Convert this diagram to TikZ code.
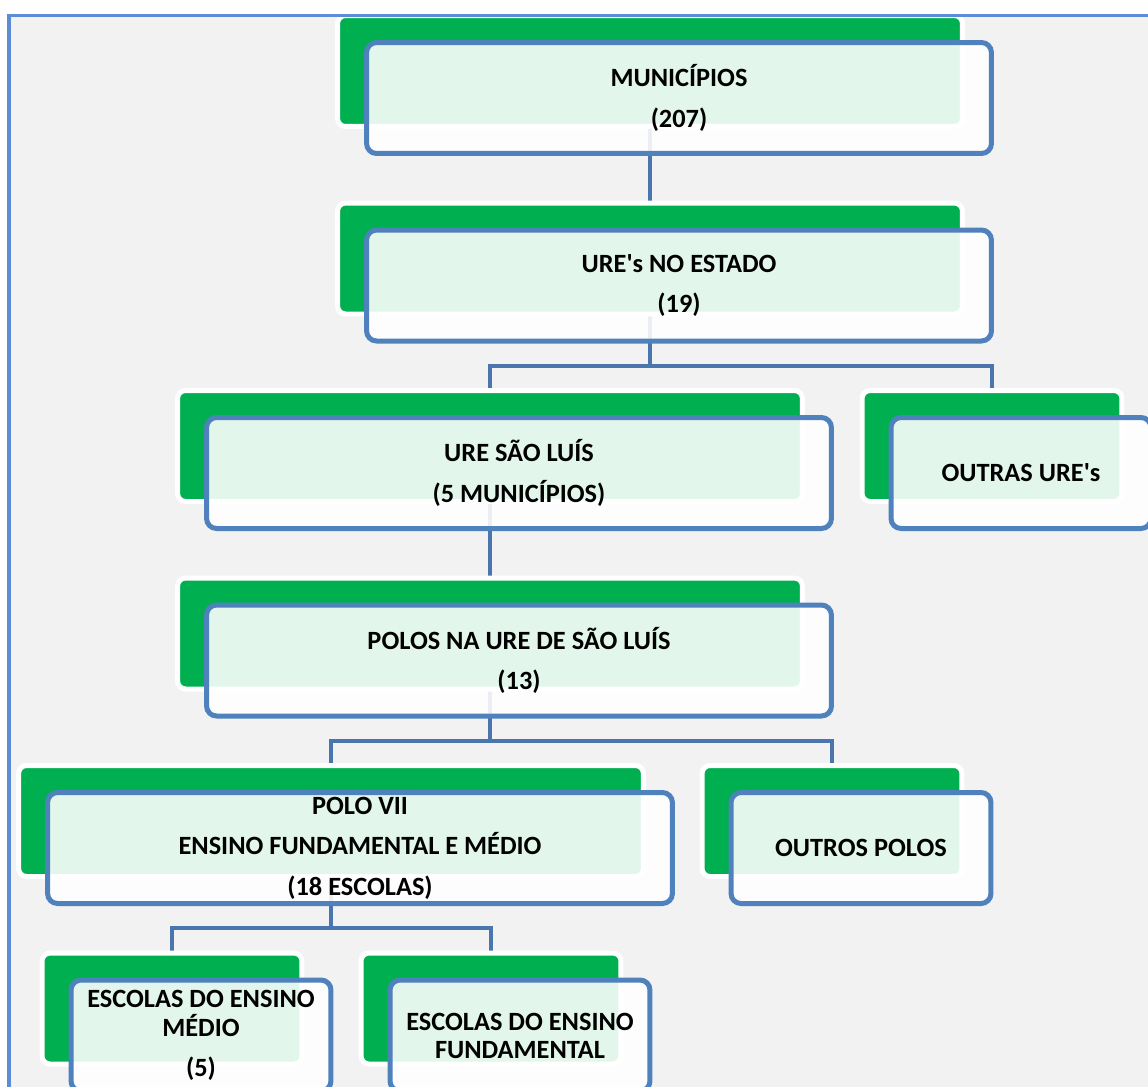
\documentclass[tikz,border=0pt]{standalone}
\usepackage{fontspec}
\setmainfont{Carlito}
\usepackage{tikz}
\usetikzlibrary{calc, backgrounds}
\definecolor{boxgreen}{HTML}{00B050}
\definecolor{boxblue}{HTML}{4F81BD}
\definecolor{linkblue}{HTML}{4A75AD}
\definecolor{frameblue}{HTML}{5B8DD6}
\definecolor{paper}{HTML}{F2F2F2}

\begin{document}
\begin{tikzpicture}[
    x=0.02cm, y=-0.02cm,
    every node/.style={font=\bfseries\fontsize{15pt}{16pt}\selectfont},
    shadowbox/.style={rectangle, rounded corners=0.16cm, fill=boxgreen, draw=white, line width=0.1cm, minimum height=2.22cm, inner sep=0pt},
    labelbox/.style={rectangle, rounded corners=0.2cm, fill=white, fill opacity=0.89, text opacity=1, draw=boxblue, line width=0.1cm, minimum height=2.22cm, inner sep=0pt, align=center},
    widebox/.style={minimum width=12.5cm},
    smallbox/.style={minimum width=5.2cm},
    link/.style={draw=linkblue, line width=0.08cm},
]
\useasboundingbox (0,0) rectangle (1148,1086);
\clip (0,0) rectangle (1148,1086);

% Green boxes
\node[shadowbox, widebox] (munic) at (650,71) {};
\node[shadowbox, widebox] (estado) at (650,258.5) {};
\node[shadowbox, widebox] (saoluis) at (490,446) {};
\node[shadowbox, smallbox] (outras) at (992,446) {};
\node[shadowbox, widebox] (polos) at (490,633.5) {};
\node[shadowbox, widebox] (polo7) at (331,821) {};
\node[shadowbox, smallbox] (outpolos) at (832,821) {};
\node[shadowbox, smallbox] (medio) at (172,1008.5) {};
\node[shadowbox, smallbox] (fund) at (491,1008.5) {};

% Frame
\draw[frameblue, line width=0.07cm] (9,1100) -- (9,15.5) -- (1160,15.5);

% Text boxes
\node[labelbox, widebox] (municT) at ([shift={(29,27)}]munic.center) {MUNICÍPIOS\\[7pt](207)};
\node[labelbox, widebox] (estadoT) at ([shift={(29,27)}]estado.center) {URE\textquotesingle s NO ESTADO\\[7pt](19)};
\node[labelbox, widebox] (saoluisT) at ([shift={(29,27)}]saoluis.center) {URE SÃO LUÍS\\[7pt](5 MUNICÍPIOS)};
\node[labelbox, smallbox] (outrasT) at ([shift={(29,27)}]outras.center) {OUTRAS URE\textquotesingle s};
\node[labelbox, widebox] (polosT) at ([shift={(29,27)}]polos.center) {POLOS NA URE DE SÃO LUÍS\\[7pt](13)};
\node[labelbox, widebox] (polo7T) at ([shift={(29,27)}]polo7.center) {POLO VII\\[7pt]ENSINO FUNDAMENTAL E MÉDIO\\[7pt](18 ESCOLAS)};
\node[labelbox, smallbox] (outpolosT) at ([shift={(29,27)}]outpolos.center) {OUTROS POLOS};
\node[labelbox, smallbox] (medioT) at ([shift={(29,27)}]medio.center) {ESCOLAS DO ENSINO\\MÉDIO\\[7pt](5)};
\node[labelbox, smallbox] (fundT) at ([shift={(29,27)}]fund.center) {ESCOLAS DO ENSINO\\FUNDAMENTAL};

% Junctions
\coordinate (j1) at ($(estadoT.south)!0.5!(saoluis.north)$);
\coordinate (j2) at ($(polosT.south)!0.5!(polo7.north)$);
\coordinate (j3) at ($(polo7T.south)!0.5!(medio.north)$);

\begin{scope}[on background layer]
% Page
\fill[paper] (9,15.5) rectangle (1160,1100);

% Connectors
\draw[link] (munic) -- (estado);
\draw[link] (estado.center) -- (estado.center |- j1);
\draw[link] (saoluis.center) |- (j1) -| (outras.center);
\draw[link] (saoluis) -- (polos);
\draw[link] (polos.center) -- (polos.center |- j2);
\draw[link] (polo7.center) |- (j2) -| (outpolos.center);
\draw[link] (polo7.center) -- (polo7.center |- j3);
\draw[link] (medio.center) |- (j3) -| (fund.center);
\end{scope}

\end{tikzpicture}
\end{document}
